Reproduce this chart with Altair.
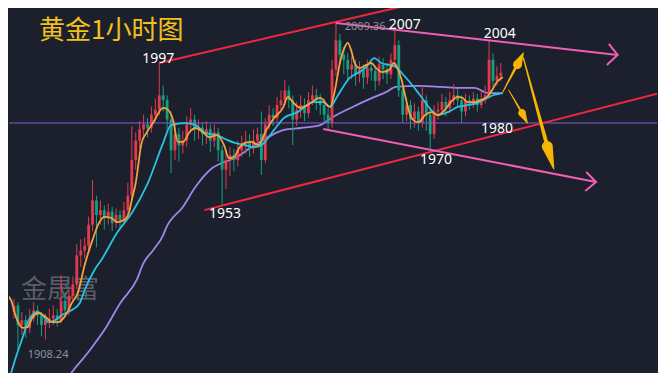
import altair as alt
import pandas as pd

# ---------------- candle data (1h bars) ----------------
open_ = [1920, 1922, 1916, 1917.5, 1915, 1918, 1920.5, 1919, 1916, 1917.5,
         1918, 1919, 1917.5, 1923.5, 1920.5, 1925, 1928.5, 1937.5, 1939, 1940.5,
         1947, 1954.5, 1950, 1951.5, 1949, 1951, 1947.5, 1950, 1948.5, 1951.5,
         1956, 1967, 1973, 1976.5, 1978, 1977, 1981, 1982.5, 1987, 1985.5,
         1979.5, 1970, 1975, 1971.5, 1973, 1978, 1979.5, 1976.5, 1977, 1975,
         1976.5, 1973, 1975.5, 1970, 1964, 1967, 1968.5, 1967, 1970, 1971.5,
         1972.5, 1970.5, 1973, 1975, 1967, 1978, 1981, 1980, 1984, 1985.5,
         1988.5, 1985.5, 1979.5, 1982.5, 1984, 1981.5, 1985.5, 1987, 1985.5, 1984,
         1981, 1978.5, 1995, 2004, 1999.5, 1998, 1995, 1996.5, 1993.5, 1995,
         1992.5, 1995.5, 1994.5, 1991.5, 1996.5, 1995, 1993.5, 1998, 2002.5, 1988.5,
         1981, 1984, 1979.5, 1982, 1978.5, 1985.5, 1981, 1975, 1982, 1982.5,
         1985, 1983, 1985.5, 1987, 1985.5, 1982, 1985.5, 1984.5, 1986, 1984,
         1985.5, 1987, 1998, 1991.5, 1993]
close = [1922, 1916, 1917.5, 1915, 1918, 1920.5, 1919, 1916, 1917.5, 1918,
         1919, 1917.5, 1923.5, 1920.5, 1925, 1928.5, 1937.5, 1939, 1940.5, 1947,
         1954.5, 1950, 1951.5, 1949, 1951, 1947.5, 1950, 1948.5, 1951.5, 1956,
         1967, 1973, 1976.5, 1978, 1977, 1981, 1982.5, 1987, 1985.5, 1979.5,
         1970, 1975, 1971.5, 1973, 1978, 1979.5, 1976.5, 1977, 1975, 1976.5,
         1973, 1975.5, 1970, 1964, 1967, 1968.5, 1967, 1970, 1971.5, 1972.5,
         1970.5, 1973, 1975, 1967, 1978, 1981, 1980, 1984, 1985.5, 1988.5,
         1985.5, 1979.5, 1982.5, 1984, 1981.5, 1985.5, 1987, 1985.5, 1984, 1981,
         1978.5, 1995, 2004, 1999.5, 1998, 1995, 1996.5, 1993.5, 1995, 1992.5,
         1995.5, 1994.5, 1991.5, 1996.5, 1995, 1993.5, 1998, 2002.5, 1988.5, 1981,
         1984, 1979.5, 1982, 1978.5, 1985.5, 1981, 1975, 1982, 1982.5, 1985,
         1983, 1985.5, 1987, 1985.5, 1982, 1985.5, 1984.5, 1986, 1984, 1985.5,
         1987, 1998, 1991.5, 1993, 1994]
high = [1924, 1923, 1920, 1919, 1921, 1923, 1922, 1920, 1919.5, 1921,
        1922, 1921, 1931.5, 1926, 1927, 1931, 1941, 1942.5, 1943, 1949.5,
        1960.8, 1956, 1954.5, 1953, 1953.5, 1952.5, 1952, 1951.5, 1954, 1960,
        1977.5, 1975.5, 1979, 1981, 1980, 1983.5, 1986, 1997, 1990, 1987,
        1982, 1978, 1977, 1976, 1980.5, 1983, 1981, 1979.5, 1978.5, 1979,
        1978, 1978, 1977, 1971.5, 1970, 1971, 1970.5, 1973, 1974.5, 1976,
        1975, 1976.5, 1977, 1982, 1980, 1984, 1983, 1986.5, 1988.5, 1991.7,
        1990, 1987, 1985, 1987, 1986, 1988, 1990, 1989, 1987.5, 1986,
        1983, 1998, 2009.36, 2006, 2002, 2000, 1999, 1998, 1997.5, 1996.5,
        1998, 1997, 1996, 1999, 1998.5, 1997, 2000, 2007, 2004, 1990,
        1986.5, 1985.5, 1984.5, 1983.5, 1990, 1987, 1982.5, 1984, 1985, 1987.5,
        1986.5, 1988, 1990.5, 1989, 1987, 1987.5, 1987, 1988, 1987.5, 1988,
        1990, 2004, 2000, 1996, 1997]
low = [1918, 1908.24, 1913, 1912, 1913.5, 1917, 1916, 1912.5, 1911.5, 1915,
       1916, 1915.5, 1916.5, 1918.5, 1919, 1923.5, 1927, 1934, 1936.5, 1939,
       1945, 1940, 1947, 1945.5, 1947, 1945, 1946, 1946, 1947, 1950,
       1954.5, 1964, 1970.5, 1973.5, 1974, 1975.5, 1979, 1981, 1982, 1976,
       1963, 1967, 1966.5, 1969, 1971, 1976, 1973, 1973.5, 1971.5, 1972,
       1969.5, 1971, 1966.5, 1953, 1958, 1962, 1963.5, 1965, 1968, 1969,
       1968, 1969, 1971, 1962.4, 1966, 1976.5, 1977.5, 1978.5, 1982.5, 1984,
       1983, 1971.6, 1977.5, 1980, 1979, 1980, 1984, 1982.5, 1981, 1978.5,
       1976, 1977, 1993, 1996.5, 1993.5, 1991.5, 1992, 1990, 1991, 1989,
       1990.5, 1991.5, 1988.5, 1990, 1992, 1990.5, 1992, 1996, 1986.5, 1978.5,
       1979, 1976.5, 1977, 1976, 1977, 1976, 1970, 1973.5, 1979.5, 1981,
       1980.5, 1981.5, 1984, 1983, 1978.4, 1980.5, 1982.5, 1983, 1982, 1983,
       1984.5, 1986, 1989.5, 1990, 1991.5]
bar_index = list(range(len(close)))

# ---------------- moving averages ----------------
ma_fast_i = [-2, -0.75, 0.5, 2.25, 3.5, 4.75, 6.25, 8, 9.75, 11.25,
             13.5, 14.75, 16.25, 18, 20, 21.75, 23, 24.75, 26.25, 28,
             29.25, 30, 31, 32.5, 33.75, 35.5, 38, 39.25, 40.5, 41.75,
             43, 44.75, 46.25, 48, 49.75, 51.75, 53.5, 54.75, 56, 57.5,
             58.75, 60.5, 62.25, 64.25, 66.25, 68.5, 69.75, 71.25, 73, 74.75,
             78, 80.5, 81.75, 83, 84.25, 85, 86, 86.75, 88, 89.75,
             91, 92.25, 93.75, 95.5, 96.75, 97.5, 98.75, 99.75, 101.25, 103,
             104.75, 106.25, 108, 109.75, 111.25, 113, 114.25, 115.5, 117.25, 118.75,
             120.5, 121.75, 123, 124.5]
ma_fast_v = [1925.3, 1923.7, 1918.5, 1915.1, 1915.4, 1918.5, 1919.7, 1918.5, 1916.9, 1916.9,
             1919.7, 1922.8, 1925.9, 1934.5, 1942.3, 1947.8, 1949.4, 1949.1, 1947.8, 1948.4,
             1950.6, 1954.6, 1959.9, 1972.3, 1975.4, 1978.7, 1983.1, 1982.5, 1979.4, 1972.6,
             1972.6, 1975.7, 1976.9, 1975.7, 1974.1, 1974.7, 1971.6, 1967.6, 1967.9, 1971.0,
             1972.3, 1972.6, 1971.6, 1976.3, 1980.0, 1983.1, 1986.5, 1984.6, 1983.1, 1984.0,
             1986.2, 1983.4, 1988.6, 1997.0, 2001.9, 2003.2, 2000.4, 1997.0, 1995.4, 1996.4,
             1997.0, 1995.4, 1994.2, 1994.8, 1997.0, 1995.8, 1991.7, 1986.2, 1980.0, 1978.7,
             1980.9, 1981.8, 1980.9, 1982.5, 1984.9, 1986.5, 1986.2, 1984.9, 1984.9, 1985.5,
             1986.5, 1988.6, 1991.1, 1992.7]
ma_mid_i = [-1.25, 0.5, 2.25, 3.75, 6, 7.25, 8.75, 10.5, 12.25, 14.75,
            16.75, 18, 20.5, 22.25, 26.25, 30, 34, 38, 40, 43.75,
            46.25, 48.75, 51.75, 54.25, 56.25, 58.75, 61.25, 63, 66.25, 68.75,
            72.25, 76.25, 78.75, 80.5, 82.25, 85.5, 88, 89.75, 91.75, 93.5,
            95.5, 97.25, 98.75, 101, 103, 106.25, 108, 110.5, 113, 115.5,
            118, 120.5, 122.25, 124.5]
ma_mid_v = [1899.0, 1906.1, 1912.3, 1917.5, 1920.0, 1919.1, 1916.9, 1917.5, 1919.1, 1920.6,
            1922.8, 1926.8, 1933.0, 1936.1, 1944.5, 1950.6, 1959.6, 1972.3, 1977.8, 1978.4,
            1977.8, 1975.4, 1974.7, 1973.2, 1972.3, 1971.6, 1971.0, 1971.6, 1976.3, 1980.0,
            1981.8, 1984.9, 1984.9, 1983.4, 1986.5, 1992.4, 1994.2, 1995.8, 1998.5, 1997.0,
            1996.4, 1995.8, 1993.9, 1990.8, 1987.7, 1982.5, 1980.9, 1981.8, 1983.4, 1984.0,
            1984.6, 1986.2, 1987.1, 1987.7]
ma_slow_i = [11.5, 13.5, 18.75, 23, 27.25, 31.25, 33, 35.5, 38, 38.75,
             43, 46.25, 50.5, 53, 56.25, 60.5, 64.75, 68.75, 73, 78,
             81.25, 86.25, 91.25, 94.75, 97.25, 103, 109, 113.75, 117.25, 120.75,
             124.5]
ma_slow_v = [1894.0, 1899.0, 1907.3, 1914.4, 1923.1, 1929.9, 1935.2, 1939.2, 1943.8, 1946.0,
             1952.5, 1958.7, 1964.5, 1966.1, 1967.6, 1971.0, 1974.1, 1976.3, 1976.9, 1977.8,
             1980.3, 1983.4, 1986.2, 1988.0, 1989.6, 1989.9, 1989.6, 1989.3, 1989.3, 1987.7,
             1987.7]

# ---------------- drawn trend lines / arrows ----------------
level_line = [1978.45]
line_name = ["red_up", "red_up", "red_lo", "red_lo",
             "pk_up", "pk_up", "pk_up_h", "pk_up_h", "pk_up_h",
             "pk_lo", "pk_lo", "pk_lo_h", "pk_lo_h", "pk_lo_h"]
line_i = [37, 106, 48.5, 164.5,
          82, 153.75, 151.5, 153.75, 151,
          78.75, 148.25, 145.75, 148.25, 145.5]
line_p = [1997.0, 2016.5, 1951.5, 1987.7,
          2009.36, 1999.47, 2002.87, 1999.47, 1996.37,
          1976.6, 1960.2, 1963.3, 1960.2, 1957.4]
line_color = ["#f0283f", "#f0283f", "#f0283f", "#f0283f",
              "#ef5fb4", "#ef5fb4", "#ef5fb4", "#ef5fb4", "#ef5fb4",
              "#ef5fb4", "#ef5fb4", "#ef5fb4", "#ef5fb4", "#ef5fb4"]

arrow_name = ["a1"] * 4 + ["a2"] * 4 + ["a3"] * 4
arrow_i = [124.5, 128.0, 128.25, 129.75,
           126.0, 129.25, 129.4, 130.75,
           129.75, 135.75, 135.85, 137.5]
arrow_p = [1988.03, 1996.06, 1996.53, 2000.08,
           1988.64, 1981.84, 1981.53, 1978.44,
           1998.54, 1971.64, 1971.17, 1964.22]
arrow_w = [1.0, 2.8, 9, 0,
           0.8, 2.2, 7.5, 0,
           1.2, 4.0, 11, 0]

label_text = ["1997", "2007", "2004", "1980", "1970", "1953"]
label_i = [36.75, 99.5, 123.75, 123, 107.5, 53.75]
label_p = [1998.23, 2008.74, 2005.96, 1976.58, 1967.00, 1950.30]
mark_text = ["2009.36", "1908.24"]
mark_i = [84.25, 3.5]
mark_p = [2008.12, 1906.70]

# ---------------- build chart ----------------
BG = "#1b202c"
UP = "#e23b4e"
DOWN = "#15a083"

xs = alt.Scale(domain=[0, 162.5], nice=False, zero=False)
ys = alt.Scale(domain=[1901.14, 2014.0], nice=False, zero=False)


def X(f):
    return alt.X(f, type="quantitative", scale=xs, axis=None)


def Y(f):
    return alt.Y(f, type="quantitative", scale=ys, axis=None)


candles = pd.DataFrame({"i": bar_index, "o": open_, "h": high, "l": low, "c": close})
col = alt.condition("datum.c >= datum.o", alt.value(UP), alt.value(DOWN))

wicks = alt.Chart(candles).mark_rule(strokeWidth=1, clip=True).encode(
    x=X("i"), y=Y("l"), y2="h", color=col)
bodies = alt.Chart(candles).mark_bar(size=2.8, clip=True).encode(
    x=X("i"), y=Y("o"), y2="c", color=col)


def ma_layer(ii, vv, color, w=1.8):
    df = pd.DataFrame({"i": ii, "p": vv})
    return alt.Chart(df).mark_line(color=color, strokeWidth=w, clip=True,
                                   interpolate="monotone").encode(x=X("i"), y=Y("p"))


ma_slow = ma_layer(ma_slow_i, ma_slow_v, "#a185ec")
ma_mid = ma_layer(ma_mid_i, ma_mid_v, "#27c3df")
ma_fast = ma_layer(ma_fast_i, ma_fast_v, "#f6a23c")

hline = alt.Chart(pd.DataFrame({"p": level_line})).mark_rule(
    color="#8d5bd4", strokeWidth=1).encode(y=Y("p"))

lines_df = pd.DataFrame({"name": line_name, "i": line_i, "p": line_p,
                         "col": line_color, "k": list(range(len(line_i)))})
trend = alt.Chart(lines_df).mark_line(strokeWidth=2, clip=True).encode(
    x=X("i"), y=Y("p"), detail="name:N", order="k:Q",
    color=alt.Color("col:N", scale=None))

arrows_df = pd.DataFrame({"name": arrow_name, "i": arrow_i, "p": arrow_p,
                          "w": arrow_w, "k": list(range(len(arrow_i)))})
arrows = alt.Chart(arrows_df).mark_trail(color="#f7b500", clip=True).encode(
    x=X("i"), y=Y("p"), detail="name:N", order="k:Q",
    size=alt.Size("w:Q", scale=None, legend=None))

labels = alt.Chart(pd.DataFrame({"t": label_text, "i": label_i, "p": label_p})).mark_text(
    color="#ffffff", fontSize=14, font="Noto Sans", baseline="middle", align="center"
).encode(x=X("i"), y=Y("p"), text="t:N")

marks = alt.Chart(pd.DataFrame({"t": mark_text, "i": mark_i, "p": mark_p})).mark_text(
    color="#8e939c", fontSize=11, font="Noto Sans", baseline="middle", align="left"
).encode(x=X("i"), y=Y("p"), text="t:N")

title = alt.Chart(pd.DataFrame({"t": ["黄金1小时图"]})).mark_text(
    color="#f3c11b", fontSize=26, font="Noto Sans CJK SC", baseline="alphabetic", align="left"
).encode(x=alt.value(30), y=alt.value(31), text="t:N")

watermark = alt.Chart(pd.DataFrame({"t": ["金晟富"]})).mark_text(
    color="#5a5f66", fontSize=26, font="Noto Sans CJK SC", baseline="middle", align="left"
).encode(x=alt.value(12), y=alt.value(282), text="t:N")

chart = alt.layer(
    watermark, ma_slow, wicks, bodies, hline, ma_mid, ma_fast, trend, arrows,
    labels, marks, title
).properties(
    width=650, height=365, padding=0,
    autosize=alt.AutoSizeParams(type="fit", contains="padding"),
    background=BG,
).configure_view(stroke=None)

chart.save("out.html", embed_options={"renderer": "svg", "actions": False})
